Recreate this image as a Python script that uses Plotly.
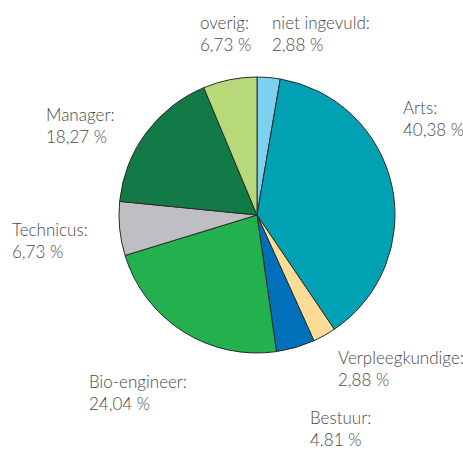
import plotly.graph_objects as go

categories = ["niet ingevuld", "Arts", "Verpleegkundige", "Bestuur",
              "Bio-engineer", "Technicus", "Manager", "overig"]
values = [2.88, 40.38, 2.88, 4.81, 24.04, 6.73, 18.27, 6.73]
value_labels = ["2,88 %", "40,38 %", "2,88 %", "4.81 %",
                "24,04 %", "6,73 %", "18,27 %", "6,73 %"]
colors = ["#7dd0f0", "#00a1b3", "#fadc96", "#0070bb",
          "#22b14c", "#bfbfc3", "#117a46", "#b7d97a"]

W, H = 463, 450
cx, cy, r = 257, 215, 138

# label anchor (left x, vertical centre y) in pixels
label_pos = [(270, 33), (401, 118), (336, 368), (308, 428),
             (87, 392), (10, 240), (44, 125), (198, 33)]

fig = go.Figure(go.Pie(
    labels=categories, values=values, sort=False, direction="clockwise",
    rotation=0, textinfo="none", hoverinfo="label+percent",
    marker=dict(colors=colors, line=dict(color="#2a2a2a", width=1)),
    domain=dict(x=[(cx - r) / W, (cx + r) / W], y=[1 - (cy + r) / H, 1 - (cy - r) / H]),
    showlegend=False,
))

for cat, lab, (px, py) in zip(categories, value_labels, label_pos):
    fig.add_annotation(
        x=px / W, y=1 - py / H, xref="paper", yref="paper",
        xanchor="left", yanchor="middle", align="left", showarrow=False,
        text=f"{cat}:<br>{lab}",
        font=dict(family="Lato", size=17, color="#4a4a4a", weight=300),
    )

fig.update_layout(width=W, height=H, margin=dict(l=0, r=0, t=0, b=0),
                  paper_bgcolor="white", plot_bgcolor="white")
fig.write_html("out.html", config={"displayModeBar": False},
               post_script="document.body.style.margin='0';document.body.style.overflow='hidden';")
